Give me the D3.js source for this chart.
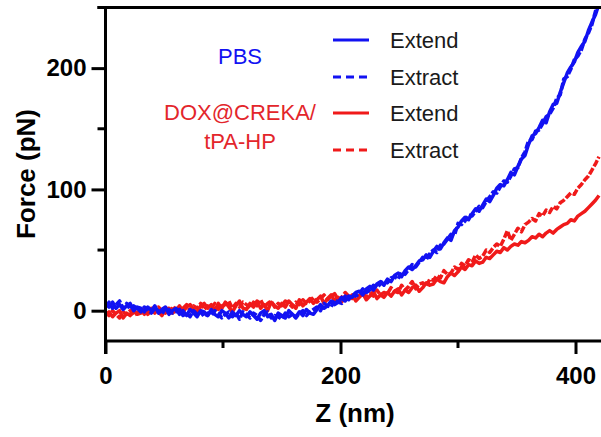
<!DOCTYPE html>
<html>
	<head>
		<script type="text/javascript" src="https://cdn.jsdelivr.net/npm/d3@7/dist/d3.min.js"></script>
		<style>
			body { margin: 0; background: #fff; }
			text { font-family: "Liberation Sans", Arial, sans-serif; }
		</style>
	</head>
	<body>
		<svg id="viz"></svg>
		<script>
			// Z positions (nm), one sample every 3 nm
			var zNm = d3.range(0, 421, 3);

			// PBS, approach
			var pbsExtend = [
				6, 3, 7, 2, 5, 1, 4, 6, 0, 3,
				2, -1, 3, 0, 4, -2, 1, 3, -3, 0,
				2, -3, 0, -4, 1, -2, -5, 0, -1, -4,
				1, -3, -5, 0, -2, -6, -1, -4, 0, -3,
				-5, -1, -4, -7, -2, 0, -5, -3, -8, -2,
				-4, -6, 0, -3, -5, -1, -4, 1, -2, -3,
				1, 5, 2, 4, 8, 5, 7, 11, 8, 12,
				11, 15, 16, 13, 18, 20, 17, 22, 24, 21,
				26, 24, 29, 31, 28, 33, 36, 34, 37, 41,
				42, 46, 44, 49, 53, 51, 56, 60, 58, 66,
				69, 74, 77, 75, 80, 84, 82, 87, 92, 90,
				95, 101, 104, 103, 108, 114, 112, 119, 125, 128,
				137, 144, 146, 151, 157, 155, 164, 170, 171, 180,
				188, 196, 201, 205, 213, 218, 222, 231, 238, 244,
				253
			];
			// PBS, retract
			var pbsExtract = [
				3, 7, 2, 5, 8, 2, 6, 1, 4, 2,
				-1, 3, 1, -2, 2, 0, -3, 2, 1, -2,
				-1, 1, -4, -2, -5, 0, -3, -1, -5, -2,
				-4, 0, -2, -6, -3, -1, -5, -2, -7, -1,
				-3, -6, -2, -4, -8, -3, -1, -6, -4, -5,
				-7, -2, -5, -3, -6, -2, 0, -4, -1, 1,
				3, 0, 6, 4, 3, 9, 7, 6, 12, 9,
				14, 12, 14, 18, 15, 17, 21, 19, 22, 25,
				23, 27, 28, 26, 32, 30, 34, 38, 36, 40,
				44, 42, 47, 50, 48, 54, 55, 59, 63, 62,
				72, 71, 74, 79, 78, 82, 86, 85, 90, 94,
				98, 97, 102, 107, 106, 111, 117, 118, 126, 131,
				140, 141, 148, 149, 154, 160, 162, 167, 175, 178,
				191, 193, 199, 207, 210, 215, 224, 229, 236, 247,
				251
			];
			// DOX@CREKA/tPA-HP, approach
			var doxExtend = [
				-4, -1, -5, -2, 0, -6, -2, -4, 1, -3,
				-2, 2, -3, 0, 3, -1, -4, 1, 2, -2,
				0, 4, -1, 3, 5, 1, -2, 4, 6, 2,
				5, 0, 6, 2, 7, 3, -1, 4, 8, 2,
				1, 6, 3, 8, 2, 5, 0, 7, 4, 2,
				6, 3, 8, 5, 2, 9, 4, 7, 10, 6,
				9, 12, 6, 10, 13, 8, 11, 7, 12, 10,
				13, 8, 11, 14, 9, 12, 16, 10, 13, 11,
				15, 12, 16, 18, 13, 17, 15, 19, 21, 16,
				19, 23, 21, 22, 26, 24, 23, 28, 31, 29,
				32, 36, 34, 38, 37, 41, 39, 40, 44, 43,
				46, 49, 48, 52, 50, 53, 55, 54, 57, 56,
				58, 61, 60, 63, 61, 64, 66, 64, 67, 69,
				71, 72, 75, 74, 78, 80, 82, 85, 88, 91,
				95
			];
			// DOX@CREKA/tPA-HP, retract
			var doxExtract = [
				-1, -4, 0, -3, -6, -1, -3, 0, -4, -2,
				1, -3, 0, 2, -2, 3, 0, -2, 3, 1,
				3, -1, 2, 5, 0, 4, 2, 6, 1, 4,
				2, 6, 1, 4, 5, 8, 2, 6, 3, 7,
				5, 2, 7, 4, 9, 3, 6, 8, 3, 6,
				4, 8, 6, 3, 7, 5, 9, 6, 8, 11,
				7, 10, 13, 9, 12, 14, 9, 11, 15, 12,
				10, 13, 12, 15, 11, 14, 12, 17, 13, 15,
				14, 19, 16, 15, 21, 17, 20, 24, 18, 22,
				23, 20, 26, 25, 29, 27, 33, 30, 31, 36,
				34, 39, 37, 42, 40, 46, 43, 45, 50, 48,
				52, 55, 53, 59, 66, 58, 63, 68, 65, 71,
				73, 76, 74, 80, 78, 83, 81, 86, 84, 89,
				91, 94, 97, 96, 101, 104, 108, 111, 116, 121,
				127
			];

			var xMajor = [0, 200, 400], xMinor = [100, 300];
			var yMajor = [0, 100, 200], yMinor = [50, 150, 250];

			var blue = "#1212f2", red = "#f01a1a";
			var width = 601, height = 437;

			var svg = d3.select("#viz").attr("width", width).attr("height", height);

			var x = d3.scaleLinear().domain([0, 421.7]).range([105.5, 601]);
			var y = d3.scaleLinear().domain([-25, 250]).range([341, 7.5]);

			svg.append("clipPath").attr("id", "plotclip")
				.append("rect")
				.attr("x", x(0)).attr("y", y(250))
				.attr("width", width - x(0)).attr("height", y(-25) - y(250));

			var series = [
				{ "vals": doxExtract, "color": red, "dash": "7,2" },
				{ "vals": doxExtend, "color": red, "dash": null },
				{ "vals": pbsExtract, "color": blue, "dash": "7,2" },
				{ "vals": pbsExtend, "color": blue, "dash": null }
			];

			var line = d3.line()
				.x(function(d) { return x(d[0]); })
				.y(function(d) { return y(d[1]); });

			svg.append("g").attr("clip-path", "url(#plotclip)")
				.selectAll("path")
				.data(series)
				.enter()
				.append("path")
				.attr("d", function(s) { return line(zNm.map(function(z, i) { return [z, s.vals[i]]; })); })
				.attr("fill", "none")
				.attr("stroke", function(s) { return s.color; })
				.attr("stroke-width", 3.5)
				.attr("stroke-linejoin", "round")
				.attr("stroke-dasharray", function(s) { return s.dash; });

			// axes
			var xAxis = svg.append("g").attr("transform", "translate(0," + y(-25) + ")")
				.call(d3.axisBottom(x).tickValues(xMajor).tickSize(13).tickPadding(13).tickSizeOuter(0));
			xAxis.selectAll(".minor")
				.data(xMinor)
				.enter()
				.append("line")
				.attr("x1", function(d) { return x(d); }).attr("x2", function(d) { return x(d); })
				.attr("y1", 0).attr("y2", 7)
				.attr("stroke", "#000").attr("stroke-width", 3);

			var yAxis = svg.append("g").attr("transform", "translate(" + x(0) + ",0)")
				.call(d3.axisLeft(y).tickValues(yMajor).tickSize(14).tickPadding(5).tickSizeOuter(0));
			yAxis.selectAll(".minor")
				.data(yMinor)
				.enter()
				.append("line")
				.attr("x1", -8).attr("x2", 0)
				.attr("y1", function(d) { return y(d); }).attr("y2", function(d) { return y(d); })
				.attr("stroke", "#000").attr("stroke-width", 3);

			[xAxis, yAxis].forEach(function(a) {
				a.select(".domain").attr("stroke", "#000").attr("stroke-width", 3);
				a.selectAll(".tick line").attr("stroke", "#000").attr("stroke-width", 3);
				a.selectAll(".tick text")
					.attr("fill", "#000")
					.style("font-family", "'Liberation Sans', Arial, sans-serif")
					.style("font-size", "24px")
					.style("font-weight", "bold");
			});
			xAxis.selectAll(".domain").attr("d", "M" + (x(0) - 1.5) + ",0H" + width);
			yAxis.selectAll(".domain").attr("d", "M0," + (y(-25) + 13) + "V" + y(250));

			// top frame
			svg.append("line")
				.attr("x1", x(0) - 8).attr("x2", width)
				.attr("y1", y(250)).attr("y2", y(250))
				.attr("stroke", "#000").attr("stroke-width", 3);

			// axis titles
			svg.append("text")
				.attr("x", 355).attr("y", 422)
				.attr("text-anchor", "middle")
				.style("font-size", "26px").style("font-weight", "bold")
				.text("Z (nm)");
			svg.append("text")
				.attr("transform", "translate(35,174) rotate(-90)")
				.attr("text-anchor", "middle")
				.style("font-size", "26px").style("font-weight", "bold")
				.text("Force (pN)");

			// legend
			var groups = [
				{ "lines": ["PBS"], "color": blue, "y": 64 },
				{ "lines": ["DOX@CREKA/", "tPA-HP"], "color": "#e3262b", "y": 120 }
			];
			groups.forEach(function(g) {
				g.lines.forEach(function(t, i) {
					svg.append("text")
						.attr("x", 240).attr("y", g.y + i * 29)
						.attr("text-anchor", "middle")
						.attr("fill", g.color)
						.style("font-size", "22px")
						.text(t);
				});
			});

			var legend = [
				{ "label": "Extend", "color": blue, "dash": null, "y": 40 },
				{ "label": "Extract", "color": blue, "dash": "8,5", "y": 77 },
				{ "label": "Extend", "color": red, "dash": null, "y": 113 },
				{ "label": "Extract", "color": red, "dash": "8,5", "y": 150 }
			];
			var items = svg.selectAll(".leg")
				.data(legend)
				.enter()
				.append("g")
				.attr("transform", function(d) { return "translate(0," + d.y + ")"; });
			items.append("line")
				.attr("x1", 333).attr("x2", 369)
				.attr("stroke", function(d) { return d.color; })
				.attr("stroke-width", 3)
				.attr("stroke-dasharray", function(d) { return d.dash; });
			items.append("text")
				.attr("x", 390).attr("y", 8)
				.attr("fill", "#1a1a1a")
				.style("font-size", "22px")
				.text(function(d) { return d.label; });
		</script>
	</body>
</html>
